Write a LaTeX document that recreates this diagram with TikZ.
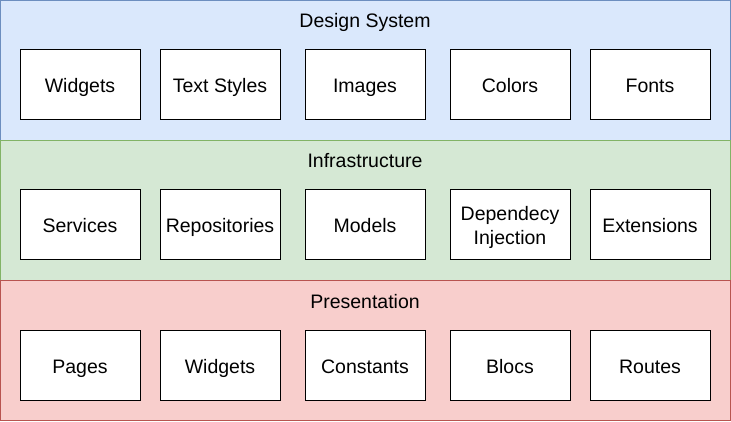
\documentclass[tikz,border=0pt]{standalone}
\usepackage{fontspec}
\setmainfont{Liberation Sans}
\definecolor{dsfill}{HTML}{DAE8FC}
\definecolor{dsline}{HTML}{6C8EBF}
\definecolor{infill}{HTML}{D5E8D4}
\definecolor{inline}{HTML}{82B366}
\definecolor{prfill}{HTML}{F8CECC}
\definecolor{prline}{HTML}{B85450}
\tikzset{
  layerbox/.style={line width=1pt},
  layertitle/.style={font=\fontsize{19.5}{24}\selectfont, inner sep=0pt,
    text height=17pt, text depth=1pt},
  part/.style={draw=black, fill=white, line width=1pt, minimum width=120pt,
    minimum height=70pt, inner sep=2pt, align=center,
    font=\fontsize{19.5}{24}\selectfont}
}
\begin{document}
\begin{tikzpicture}[x=1pt, y=-1pt]
    \useasboundingbox (0,0) rectangle (731,422);

    % Layers
    \draw[layerbox, draw=dsline, fill=dsfill] (0.5,0.5) rectangle (730.5,140.5);
    \draw[layerbox, draw=inline, fill=infill] (0.5,140.5) rectangle (730.5,280.5);
    \draw[layerbox, draw=prline, fill=prfill] (0.5,280.5) rectangle (730.5,420.5);

    % Layer titles
    \node[layertitle] (design) at (365,20) {Design System};
    \node[layertitle] (infra) at (365,160) {Infrastructure};
    \node[layertitle] (pres) at (365,300) {Presentation};

    % Design System parts
    \foreach \x/\name/\txt in {80/ds1/Widgets, 220/ds2/Text Styles,
        365/ds3/Images, 510/ds4/Colors, 650/ds5/Fonts}
        \node[part, text height=17pt, text depth=1pt] (\name) at (\x,85) {\txt};

    % Infrastructure parts
    \foreach \x/\name/\txt in {80/in1/Services, 220/in2/Repositories,
        365/in3/Models, 650/in5/Extensions}
        \node[part, text height=17pt, text depth=1pt] (\name) at (\x,225) {\txt};
    \node[part, text depth=0pt] (in4) at (510,225) {Dependecy\\Injection};

    % Presentation parts
    \foreach \x/\name/\txt in {80/pr1/Pages, 220/pr2/Widgets,
        365/pr3/Constants, 510/pr4/Blocs, 650/pr5/Routes}
        \node[part, text height=17pt, text depth=1pt] (\name) at (\x,365) {\txt};
\end{tikzpicture}
\end{document}
